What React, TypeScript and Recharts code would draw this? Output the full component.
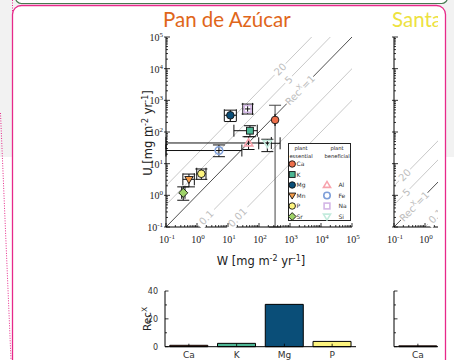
import React from "react";
import {
  ComposedChart,
  Scatter,
  XAxis,
  YAxis,
  ErrorBar,
  ReferenceLine,
  ReferenceDot,
  BarChart,
  Bar,
  Cell,
} from "recharts";

// Pan de Azúcar: weathering flux W vs. uptake flux U, mg m^-2 yr^-1
const elements = ["Ca", "K", "Mg", "Mn", "P", "Sr", "Al", "Fe", "Na", "Si"];
const wValues = [330, 51, 11.9, 0.55, 1.38, 0.36, 46, 5.1, 43, 186];
const wLower = [330, 15.5, 7.6, 0.35, 0.98, 0.32, 0.1, 0.1, 30, 98];
const wUpper = [330, 88, 18.6, 0.82, 1.95, 0.41, 250, 28, 62, 480];
const uValues = [240, 110, 337, 3.2, 4.8, 1.2, 45, 26, 535, 44];
const uLower = [0.1, 71, 214, 1.85, 3.2, 0.7, 28, 16.6, 370, 24];
const uUpper = [700, 158, 490, 4.7, 6.8, 1.85, 71, 39, 760, 59];

// Rec^X = U / W reference lines and where their labels sit (by W)
const recRatios = [20, 5, 1, 0.1, 0.01];
const recLabels = ["20", "5", "Rec=1", "0.1", "0.01"];
const padLabelW = [480, 900, 2100, 2.0, 20];
const sgLabelW = [0.22, 0.25, 0.45, 2.2];

// recycling factor bars
const recCategories = ["Ca", "K", "Mg", "P"];
const padRec = [1.0, 2.4, 30.4, 3.8];
const sgRec = [0.6, null, null, null];

const decades = [0.1, 1, 10, 100, 1000, 10000, 100000];
const logTicks = decades.flatMap((d, i) =>
  i === decades.length - 1 ? [d] : [1, 2, 3, 4, 5, 6, 7, 8, 9].map((m) => m * d)
);

const markerStyle: Record<string, { shape: string; color: string; open?: boolean }> = {
  Ca: { shape: "circle", color: "#ee6f4a" },
  K: { shape: "square", color: "#4db795" },
  Mg: { shape: "circle", color: "#0a4e78" },
  Mn: { shape: "triangleDown", color: "#f39c4a" },
  P: { shape: "circle", color: "#fdf47e" },
  Sr: { shape: "diamond", color: "#9fd36a" },
  Al: { shape: "triangleUp", color: "#f7a3ad", open: true },
  Fe: { shape: "circle", color: "#7f9fd9", open: true },
  Na: { shape: "square", color: "#d3b6e6", open: true },
  Si: { shape: "triangleDown", color: "#c3ebdd", open: true },
};

const barColors: Record<string, string> = {
  Ca: "#ee6f4a",
  K: "#4db795",
  Mg: "#0a4e78",
  P: "#fdf47e",
};

const SANS = "'DejaVu Sans', sans-serif";
const SERIF = "'Liberation Serif', serif";
const LINE_ANGLE = -45.6;

const padPoints = elements.map((el, i) => ({
  el,
  w: wValues[i],
  u: uValues[i],
  wErr: [wValues[i] - wLower[i], wUpper[i] - wValues[i]],
  uErr: [uValues[i] - uLower[i], uUpper[i] - uValues[i]],
}));

const isDecade = (v: number) =>
  Math.abs(Math.log10(v) - Math.round(Math.log10(v))) < 1e-6;

function Pow({ x, y, v, anchor }: { x: number; y: number; v: number; anchor: "middle" | "end" }) {
  return (
    <text x={x} y={y} textAnchor={anchor} fontFamily={SERIF} fontSize={10} fill="#222">
      10
      <tspan dy={-4} fontSize={7}>
        {`${Math.round(Math.log10(v))}`}
      </tspan>
    </text>
  );
}

function MarkerShape({ cx, cy, el, scale = 1 }: { cx: number; cy: number; el: string; scale?: number }) {
  const s = markerStyle[el];
  const fill = s.open ? "none" : s.color;
  const stroke = s.open ? s.color : "#111";
  const sw = s.open ? 1.6 : 0.9;
  const r = 3.8 * scale;
  switch (s.shape) {
    case "square":
      return <rect x={cx - r * 0.9} y={cy - r * 0.9} width={r * 1.8} height={r * 1.8} fill={fill} stroke={stroke} strokeWidth={sw} />;
    case "triangleDown":
      return (
        <polygon
          points={`${cx - r * 1.1},${cy - r * 0.75} ${cx + r * 1.1},${cy - r * 0.75} ${cx},${cy + r * 1.1}`}
          fill={fill}
          stroke={stroke}
          strokeWidth={sw}
        />
      );
    case "triangleUp":
      return (
        <polygon
          points={`${cx - r * 1.1},${cy + r * 0.75} ${cx + r * 1.1},${cy + r * 0.75} ${cx},${cy - r * 1.1}`}
          fill={fill}
          stroke={stroke}
          strokeWidth={sw}
        />
      );
    case "diamond":
      return (
        <polygon
          points={`${cx},${cy - r * 1.2} ${cx + r * 1.2},${cy} ${cx},${cy + r * 1.2} ${cx - r * 1.2},${cy}`}
          fill={fill}
          stroke={stroke}
          strokeWidth={sw}
        />
      );
    default:
      return <circle cx={cx} cy={cy} r={r} fill={fill} stroke={stroke} strokeWidth={sw} />;
  }
}

function lineLabel(text: string) {
  const width = text === "Rec=1" ? 38 : text.length * 6.4 + 3;
  return (p: any) => (
    <g transform={`translate(${p.cx},${p.cy}) rotate(${LINE_ANGLE})`}>
      <rect x={-width / 2} y={-6} width={width} height={12} fill="#fff" />
      <text textAnchor="middle" y={3.6} fontFamily={SANS} fontSize={10} fill="#bdbdbd">
        {text === "Rec=1" ? (
          <>
            Rec
            <tspan dy={-4} fontSize={7}>
              X
            </tspan>
            <tspan dy={4}>=1</tspan>
          </>
        ) : (
          text
        )}
      </text>
    </g>
  );
}

function FluxPanel({
  plotLeft,
  points,
  labelW,
  showYLabels,
  maxLabelX = Infinity,
}: {
  plotLeft: number;
  points: typeof padPoints;
  labelW: number[];
  showYLabels: boolean;
  maxLabelX?: number;
}) {
  const yAxisW = 50;
  const plotW = 186;
  const width = plotLeft + plotW + 20;
  const tickStroke = { stroke: "#000", strokeWidth: 0.8 };
  return (
    <ComposedChart
      width={width}
      height={280}
      margin={{ top: 37, right: 20, bottom: 13, left: plotLeft - yAxisW }}
    >
      <XAxis
        dataKey="w"
        type="number"
        scale="log"
        domain={[0.1, 1e5]}
        allowDataOverflow
        ticks={logTicks}
        interval={0}
        tickSize={0}
        tickMargin={0}
        height={40}
        axisLine={{ stroke: "#000" }}
        tick={(p: any) => (
          <g>
            <line x1={p.x} x2={p.x} y1={p.y} y2={p.y - (isDecade(p.payload.value) ? 4 : 2)} {...tickStroke} />
            {isDecade(p.payload.value) && p.x < maxLabelX && (
              <Pow x={p.x + 1} y={p.y + 16} v={p.payload.value} anchor="middle" />
            )}
          </g>
        )}
      />
      <XAxis
        xAxisId="top"
        orientation="top"
        type="number"
        scale="log"
        domain={[0.1, 1e5]}
        allowDataOverflow
        ticks={logTicks}
        interval={0}
        tickSize={0}
        tickMargin={0}
        height={0}
        axisLine={{ stroke: "#000" }}
        tick={(p: any) => (
          <line x1={p.x} x2={p.x} y1={p.y} y2={p.y + (isDecade(p.payload.value) ? 4 : 2)} {...tickStroke} />
        )}
      />
      <YAxis
        dataKey="u"
        type="number"
        scale="log"
        domain={[0.1, 1e5]}
        allowDataOverflow
        ticks={logTicks}
        interval={0}
        tickSize={0}
        tickMargin={0}
        width={yAxisW}
        axisLine={{ stroke: "#000" }}
        tick={(p: any) => (
          <g>
            <line x1={p.x} x2={p.x + (isDecade(p.payload.value) ? 4 : 2)} y1={p.y} y2={p.y} {...tickStroke} />
            {isDecade(p.payload.value) && (
              <line x1={p.x} x2={p.x - 2} y1={p.y} y2={p.y} {...tickStroke} />
            )}
            {showYLabels && isDecade(p.payload.value) && (
              <Pow x={p.x - 3} y={p.y + 4} v={p.payload.value} anchor="end" />
            )}
          </g>
        )}
      />
      <YAxis
        yAxisId="right"
        orientation="right"
        type="number"
        scale="log"
        domain={[0.1, 1e5]}
        allowDataOverflow
        ticks={logTicks}
        interval={0}
        tickSize={0}
        tickMargin={0}
        width={0}
        axisLine={{ stroke: "#000" }}
        tick={(p: any) => (
          <line x1={p.x} x2={p.x - (isDecade(p.payload.value) ? 4 : 2)} y1={p.y} y2={p.y} {...tickStroke} />
        )}
      />
      {recRatios.map((r) => (
        <ReferenceLine
          key={`line-${r}`}
          segment={[
            { x: 1e-3, y: 1e-3 * r },
            { x: 1e7, y: 1e7 * r },
          ]}
          stroke={r === 1 ? "#222" : "#c8c8c8"}
          strokeWidth={r === 1 ? 0.8 : 1}
          ifOverflow="hidden"
        />
      ))}
      {labelW.map((w, i) => (
        <ReferenceDot
          key={`label-${i}`}
          x={w}
          y={w * recRatios[i]}
          r={0}
          ifOverflow="hidden"
          shape={lineLabel(recLabels[i])}
        />
      ))}
      {points.map((p) => (
        <Scatter
          key={p.el}
          data={[p]}
          dataKey="u"
          isAnimationActive={false}
          shape={(s: any) => <MarkerShape cx={s.cx} cy={s.cy} el={p.el} />}
        >
          <ErrorBar dataKey="wErr" direction="x" width={6} stroke="#111" strokeWidth={1} />
          <ErrorBar dataKey="uErr" direction="y" width={6} stroke={p.el === "Ca" ? "#444" : "#111"} strokeWidth={1} />
        </Scatter>
      ))}
    </ComposedChart>
  );
}

function RecBars({
  plotLeft,
  values,
  showYLabels,
  maxLabelX = Infinity,
}: {
  plotLeft: number;
  values: (number | null)[];
  showYLabels: boolean;
  maxLabelX?: number;
}) {
  const yAxisW = 40;
  const data = recCategories.map((cat, i) => ({ cat, rec: values[i] }));
  const tickStroke = { stroke: "#000", strokeWidth: 0.8 };
  return (
    <BarChart
      width={plotLeft + 191 + 20}
      height={80}
      data={data}
      margin={{ top: 11, right: 20, bottom: 0, left: plotLeft - yAxisW }}
    >
      <XAxis
        dataKey="cat"
        tickSize={0}
        tickMargin={0}
        height={13.3}
        interval={0}
        axisLine={{ stroke: "#000" }}
        tick={(p: any) => (
          <g>
            <line x1={p.x} x2={p.x} y1={p.y} y2={p.y - 3} {...tickStroke} />
            {p.x < maxLabelX && (
              <text x={p.x} y={p.y + 11.5} textAnchor="middle" fontFamily={SANS} fontSize={9} fill="#333">
                {p.payload.value}
              </text>
            )}
          </g>
        )}
      />
      <XAxis
        xAxisId="top"
        dataKey="cat"
        orientation="top"
        tickSize={0}
        tickMargin={0}
        height={0}
        interval={0}
        axisLine={{ stroke: "#000" }}
        tick={(p: any) => <line x1={p.x} x2={p.x} y1={p.y} y2={p.y + 3} {...tickStroke} />}
      />
      <YAxis
        type="number"
        domain={[0, 40]}
        ticks={[0, 10, 20, 30, 40]}
        interval={0}
        tickSize={0}
        tickMargin={0}
        width={yAxisW}
        axisLine={{ stroke: "#000" }}
        tick={(p: any) => (
          <g>
            <line x1={p.x} x2={p.x + (p.payload.value % 20 === 0 ? 3.5 : 2)} y1={p.y} y2={p.y} {...tickStroke} />
            {showYLabels && p.payload.value % 20 === 0 && (
              <text x={p.x - 7} y={p.y + 3} textAnchor="end" fontFamily={SANS} fontSize={8} fill="#333">
                {p.payload.value}
              </text>
            )}
          </g>
        )}
      />
      <YAxis
        yAxisId="right"
        orientation="right"
        type="number"
        domain={[0, 40]}
        ticks={[0, 10, 20, 30, 40]}
        interval={0}
        tickSize={0}
        tickMargin={0}
        width={0}
        axisLine={{ stroke: "#000" }}
        tick={(p: any) => (
          <line x1={p.x} x2={p.x - (p.payload.value % 20 === 0 ? 3.5 : 2)} y1={p.y} y2={p.y} {...tickStroke} />
        )}
      />
      <Bar dataKey="rec" stroke="#000" strokeWidth={1} isAnimationActive={false}>
        {data.map((d) => (
          <Cell key={d.cat} fill={barColors[d.cat]} />
        ))}
      </Bar>
    </BarChart>
  );
}

function Legend() {
  const essential = ["Ca", "K", "Mg", "Mn", "P", "Sr"];
  const beneficial = ["Al", "Fe", "Na", "Si"];
  const rowY = (i: number) => 21 + i * 10.5;
  const head = { fontFamily: SANS, fontSize: 5.2, fill: "#222" };
  const txt = { fontFamily: SANS, fontSize: 6, fill: "#333" };
  return (
    <svg width={63} height={78} style={{ position: "absolute", left: 287.5, top: 142.5 }}>
      <rect x={0.5} y={0.5} width={62} height={77} fill="#fff" stroke="#222" strokeWidth={1} />
      <text x={13} y={7} textAnchor="middle" {...head}>plant</text>
      <text x={13} y={14.5} textAnchor="middle" {...head}>essential</text>
      <text x={49} y={7} textAnchor="middle" {...head}>plant</text>
      <text x={49} y={14.5} textAnchor="middle" {...head}>beneficial</text>
      {essential.map((el, i) => (
        <g key={el}>
          <MarkerShape cx={4.2} cy={rowY(i)} el={el} scale={0.85} />
          <text x={8.5} y={rowY(i) + 2.1} {...txt}>{el}</text>
        </g>
      ))}
      {beneficial.map((el, i) => (
        <g key={el}>
          <MarkerShape cx={39} cy={rowY(i + 2)} el={el} scale={0.85} />
          <text x={50.5} y={rowY(i + 2) + 2.1} {...txt}>{el}</text>
        </g>
      ))}
    </svg>
  );
}

function AxisTitles({ x0 }: { x0: number }) {
  const t = { fontFamily: SANS, fill: "#222" };
  return (
    <svg width={454} height={360} style={{ position: "absolute", left: 0, top: 0, pointerEvents: "none" }}>
      <text x={x0 + 95} y={265} textAnchor="middle" fontSize={11.5} {...t}>
        W [mg m<tspan dy={-4} fontSize={8}>-2</tspan>
        <tspan dy={4}> yr</tspan>
        <tspan dy={-4} fontSize={8}>-1</tspan>
        <tspan dy={4}>]</tspan>
      </text>
      <text transform={`translate(${x0 - 14},133) rotate(-90)`} textAnchor="middle" fontSize={11.5} {...t}>
        U [mg m<tspan dy={-4} fontSize={8}>-2</tspan>
        <tspan dy={4}> yr</tspan>
        <tspan dy={-4} fontSize={8}>-1</tspan>
        <tspan dy={4}>]</tspan>
      </text>
      <text transform={`translate(${x0 - 15},319) rotate(-90)`} textAnchor="middle" fontSize={10.5} {...t}>
        Rec<tspan dy={-4} fontSize={7.5}>X</tspan>
      </text>
    </svg>
  );
}

export default function App() {
  return (
    <div style={{ position: "absolute", left: 0, top: 0, width: 454, height: 360, overflow: "hidden", background: "#fff" }}>
      <svg width={454} height={360} style={{ position: "absolute", left: 0, top: 0 }}>
        <rect x={0} y={0} width={454} height={157} fill="#f2f2f2" />
        <rect x={15.5} y={-40} width={432} height={43.5} rx={6} fill="#fff" stroke="#467a50" strokeWidth={1.2} />
        <rect x={12.5} y={5.5} width={433} height={420} rx={9} fill="#fff" stroke="#e7298a" strokeWidth={1.3} />
        <line x1={12.5} y1={0} x2={12.5} y2={12} stroke="#e7298a" strokeWidth={1} strokeDasharray="1 1.5" />
        <line x1={0.5} y1={113} x2={11} y2={360} stroke="#e7298a" strokeWidth={1} strokeDasharray="1 1.5" />
      </svg>

      <svg width={454} height={40} style={{ position: "absolute", left: 0, top: 0 }}>
        <text x={163} y={27} fontFamily="Lato, sans-serif" fontSize={20.5} fill="#e0661a">
          Pan de Azúcar
        </text>
      </svg>
      <div style={{ position: "absolute", left: 0, top: 0 }}>
        <FluxPanel plotLeft={166} points={padPoints} labelW={padLabelW} showYLabels />
      </div>
      <div style={{ position: "absolute", left: 0, top: 280 }}>
        <RecBars plotLeft={165} values={padRec} showYLabels />
      </div>
      <AxisTitles x0={166} />
      <Legend />

      <div style={{ position: "absolute", left: 0, top: 0, width: 438, height: 360, overflow: "hidden" }}>
        <svg width={454} height={40} style={{ position: "absolute", left: 0, top: 0 }}>
          <text x={392} y={27} fontFamily="Lato, sans-serif" fontSize={20.5} fill="#ede23f">
            Santa Gracia
          </text>
        </svg>
        <div style={{ position: "absolute", left: 0, top: 0 }}>
          <FluxPanel plotLeft={394} points={[]} labelW={sgLabelW} showYLabels={false} maxLabelX={436} />
        </div>
        <div style={{ position: "absolute", left: 0, top: 280 }}>
          <RecBars plotLeft={394} values={sgRec} showYLabels={false} maxLabelX={436} />
        </div>
      </div>
    </div>
  );
}
